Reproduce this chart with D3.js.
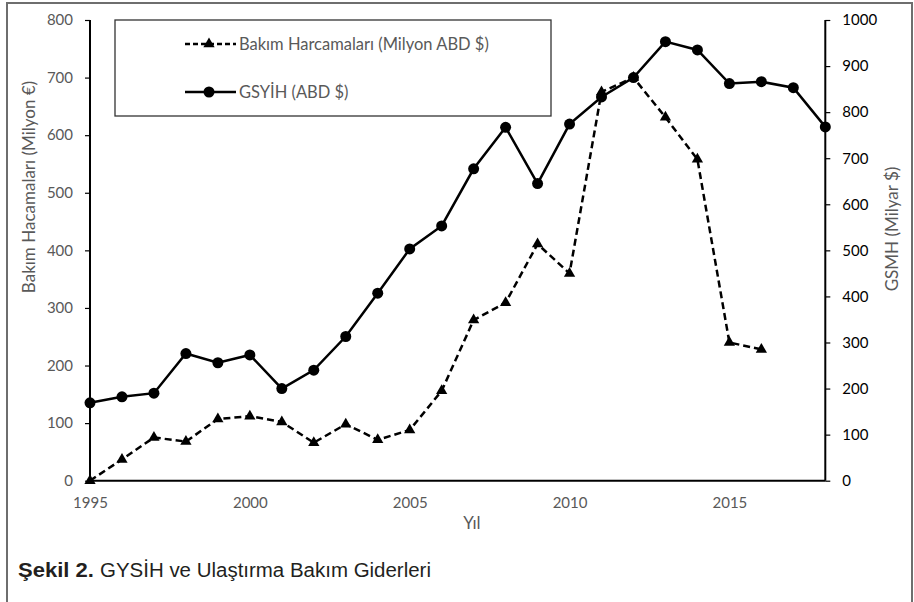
<!DOCTYPE html>
<html>
<head>
<meta charset="utf-8">
<script src="https://cdn.jsdelivr.net/npm/d3@7"></script>
<style>
  body { margin: 0; background: #fff; }
  svg { display: block; }
  .tick text { font-family: Lato, 'Open Sans', sans-serif; font-size: 15px; }
  .lbl { font-family: Lato, 'Open Sans', sans-serif; font-size: 17px; fill: #595959; }
  .leg { font-family: Lato, 'Open Sans', sans-serif; font-size: 16.5px; fill: #595959; }
  .cap { font-family: 'Liberation Sans', Arial, sans-serif; font-size: 20px; fill: #231f20; }
</style>
</head>
<body>
<div id="chart"></div>
<script>
// data
const years = d3.range(1995, 2019);
const bakimYears = d3.range(1995, 2017);
const bakim = [0, 37, 75, 68, 107, 112, 102, 66, 98, 71, 88, 156, 279, 309, 411, 360, 675, 700, 631, 558, 240, 228];
const gsyih = [169, 182, 190, 276, 256, 273, 200, 240, 313, 407, 503, 553, 677, 767, 645, 774, 833, 875, 953, 935, 862, 866, 853, 768];
const leftTicks = [0, 100, 200, 300, 400, 500, 600, 700, 800];
const rightTicks = [0, 100, 200, 300, 400, 500, 600, 700, 800, 900, 1000];
const xTicks = [1995, 2000, 2005, 2010, 2015];

var width = 914, height = 602;
var margin = {left: 90, right: 825.3, top: 20, bottom: 480.7};

let svg = d3.select('#chart').append('svg').attr('width', width).attr('height', height);

// outer frame
svg.append('rect').attr('x', 7).attr('y', 3).attr('width', 905).attr('height', 610)
    .attr('fill', 'none').attr('stroke', '#6e6e6e').attr('stroke-width', 2);

let x = d3.scaleLinear().domain([1995, 2018]).range([margin.left, margin.right]);
let yL = d3.scaleLinear().domain([0, 800]).range([margin.bottom, margin.top]);
let yR = d3.scaleLinear().domain([0, 1000]).range([margin.bottom, margin.top]);

// axes
let gL = svg.append('g').attr('transform', `translate(${margin.left},0)`)
    .call(d3.axisLeft(yL).tickValues(leftTicks).tickSize(5).tickPadding(12));
let gR = svg.append('g').attr('transform', `translate(${margin.right},0)`)
    .call(d3.axisRight(yR).tickValues(rightTicks).tickFormat(d3.format('d')).tickSize(5).tickPadding(12));
let gX = svg.append('g').attr('transform', `translate(0,${margin.bottom})`)
    .call(d3.axisBottom(x).tickValues(xTicks).tickFormat(d3.format('d')).tickSize(0).tickPadding(17));
[gL, gR, gX].forEach(g => {
    g.select('.domain').attr('stroke', '#000').attr('stroke-width', 2);
    g.selectAll('.tick line').attr('stroke', '#000').attr('stroke-width', 1.2);
});
gL.selectAll('.tick text').attr('fill', '#595959');
gR.selectAll('.tick text').attr('fill', '#000');
gX.selectAll('.tick text').attr('fill', '#595959');
gL.select('.domain').attr('d', `M0,${margin.top}V${margin.bottom}`);
gR.select('.domain').attr('d', `M0,${margin.top}V${margin.bottom}`);
gX.select('.domain').attr('d', `M${margin.left},0H${margin.right}`);

// axis titles
svg.append('text').attr('class', 'lbl').attr('text-anchor', 'middle')
    .attr('transform', 'translate(35,187) rotate(-90)').text('Bakım Hacamaları (Milyon €)');
svg.append('text').attr('class', 'lbl').attr('text-anchor', 'middle')
    .attr('transform', 'translate(898,229) rotate(-90)').text('GSMH (Milyar $)');
svg.append('text').attr('class', 'lbl').attr('text-anchor', 'middle')
    .attr('x', 472).attr('y', 529).text('Yıl');

// series
let triangle = d3.symbol().type(d3.symbolTriangle).size(55);
let lineB = d3.line().x((d, i) => x(bakimYears[i])).y(d => yL(d));
let lineG = d3.line().x((d, i) => x(years[i])).y(d => yR(d));

svg.append('path').datum(bakim).attr('d', lineB).attr('fill', 'none')
    .attr('stroke', '#000').attr('stroke-width', 2.5).attr('stroke-dasharray', '7,4');
svg.selectAll('.tri').data(bakim).enter().append('path').attr('class', 'tri')
    .attr('d', triangle).attr('fill', '#000')
    .attr('transform', (d, i) => `translate(${x(bakimYears[i])},${yL(d)})`);

svg.append('path').datum(gsyih).attr('d', lineG).attr('fill', 'none')
    .attr('stroke', '#000').attr('stroke-width', 2.5);
svg.selectAll('.dot').data(gsyih).enter().append('circle').attr('class', 'dot')
    .attr('cx', (d, i) => x(years[i])).attr('cy', d => yR(d)).attr('r', 5.5).attr('fill', '#000');

// legend
let legend = svg.append('g');
legend.append('rect').attr('x', 115).attr('y', 20).attr('width', 436).attr('height', 96)
    .attr('fill', '#fff').attr('stroke', '#333').attr('stroke-width', 1.3);
legend.append('line').attr('x1', 185).attr('x2', 236).attr('y1', 44).attr('y2', 44)
    .attr('stroke', '#000').attr('stroke-width', 2.5).attr('stroke-dasharray', '5,3');
legend.append('path').attr('d', triangle).attr('fill', '#000').attr('transform', 'translate(209,44)');
legend.append('text').attr('class', 'leg').attr('x', 239).attr('y', 44).attr('dy', '0.35em')
    .text('Bakım Harcamaları (Milyon ABD $)');
legend.append('line').attr('x1', 185).attr('x2', 236).attr('y1', 92).attr('y2', 92)
    .attr('stroke', '#000').attr('stroke-width', 2.5);
legend.append('circle').attr('cx', 209).attr('cy', 92).attr('r', 5.5).attr('fill', '#000');
legend.append('text').attr('class', 'leg').attr('x', 239).attr('y', 92).attr('dy', '0.35em')
    .text('GSYİH (ABD $)');

// caption
svg.append('text').attr('class', 'cap').attr('x', 18).attr('y', 577).attr('font-weight', 'bold')
    .attr('textLength', 76).attr('lengthAdjust', 'spacingAndGlyphs').text('Şekil 2.');
svg.append('text').attr('class', 'cap').attr('x', 100).attr('y', 577)
    .attr('textLength', 331).attr('lengthAdjust', 'spacingAndGlyphs').text('GYSİH ve Ulaştırma Bakım Giderleri');
</script>
</body>
</html>
